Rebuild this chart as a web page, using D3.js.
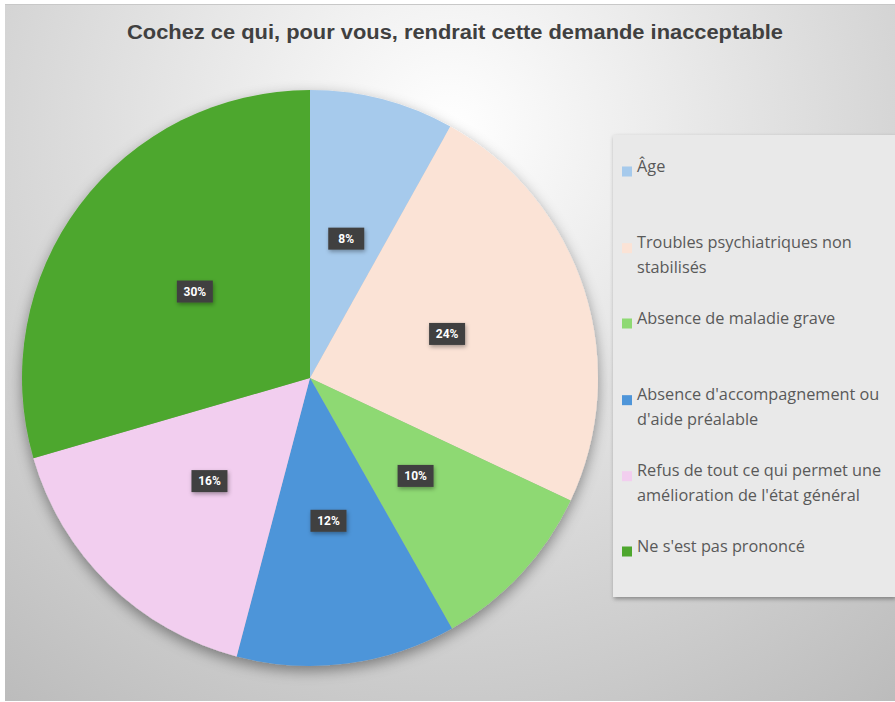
<!DOCTYPE html>
<html lang="fr">
<head>
<meta charset="UTF-8">
<title>Cochez ce qui, pour vous, rendrait cette demande inacceptable</title>
<style>
    body { margin: 0; background: #fff; }
    .legend-text { font-family: "Open Sans", "Noto Sans", sans-serif; font-size: 16.3px; fill: #595959; }
    .pct { font-family: Roboto, "Liberation Sans", sans-serif; font-size: 12px; font-weight: bold; fill: #fff; }
</style>
</head>
<body>
<svg id="chart" width="895" height="702"></svg>
<script src="https://d3js.org/d3.v7.min.js"></script>
<script>
    // slice values (in %)
    const categories = [
        "Âge",
        "Troubles psychiatriques non stabilisés",
        "Absence de maladie grave",
        "Absence d'accompagnement ou d'aide préalable",
        "Refus de tout ce qui permet une amélioration de l'état général",
        "Ne s'est pas prononcé"
    ];
    const values = [8.1, 23.9, 9.8, 12.3, 16.4, 29.5];
    const colors = ["#a6caec", "#fbe3d6", "#8ed973", "#4e95d9", "#f2ceef", "#4ea72e"];
    // legend lines, wrapped like the original
    const legendLines = [
        ["Âge"],
        ["Troubles psychiatriques non", "stabilisés"],
        ["Absence de maladie grave"],
        ["Absence d'accompagnement ou", "d'aide préalable"],
        ["Refus de tout ce qui permet une", "amélioration de l'état général"],
        ["Ne s'est pas prononcé"]
    ];
    const title = "Cochez ce qui, pour vous, rendrait cette demande inacceptable";

    const svg = d3.select("#chart");
    const defs = svg.append("defs");

    const bg = defs.append("radialGradient").attr("id", "bg")
        .attr("gradientUnits", "userSpaceOnUse")
        .attr("cx", 450).attr("cy", 130).attr("r", 720);
    bg.append("stop").attr("offset", "0%").attr("stop-color", "#ffffff");
    bg.append("stop").attr("offset", "100%").attr("stop-color", "#bcbcbc");

    const shadow = defs.append("filter").attr("id", "shadow")
        .attr("x", "-20%").attr("y", "-20%").attr("width", "140%").attr("height", "140%");
    shadow.append("feDropShadow").attr("dx", 0).attr("dy", 5)
        .attr("stdDeviation", 7).attr("flood-color", "#000").attr("flood-opacity", 0.4);

    const small = defs.append("filter").attr("id", "small")
        .attr("x", "-30%").attr("y", "-30%").attr("width", "160%").attr("height", "160%");
    small.append("feDropShadow").attr("dx", 1).attr("dy", 2)
        .attr("stdDeviation", 2).attr("flood-color", "#000").attr("flood-opacity", 0.35);

    // chart area
    svg.append("rect").attr("x", 5).attr("y", 4).attr("width", 890).attr("height", 697)
        .attr("fill", "url(#bg)");
    svg.append("line").attr("x1", 5).attr("x2", 895).attr("y1", 4.5).attr("y2", 4.5)
        .attr("stroke", "#c8c8c8");

    svg.append("text")
        .attr("x", 455).attr("y", 39)
        .attr("text-anchor", "middle")
        .attr("textLength", 656).attr("lengthAdjust", "spacingAndGlyphs")
        .style("font-family", "'Liberation Sans Narrow', 'Liberation Sans', sans-serif")
        .style("font-size", "20px").style("font-weight", "bold").style("fill", "#404040")
        .text(title);

    // pie
    const cx = 310, cy = 378, R = 288;
    const pie = d3.pie().sort(null).value(d => d);
    const arcs = pie(values);
    const arc = d3.arc().innerRadius(0).outerRadius(R);
    const labelArc = d3.arc().innerRadius(R * 0.5).outerRadius(R * 0.5);

    const g = svg.append("g").attr("transform", `translate(${cx},${cy})`);
    g.append("g").attr("filter", "url(#shadow)")
        .selectAll("path").data(arcs).join("path")
        .attr("d", arc)
        .attr("fill", (d, i) => colors[i]);

    const lab = g.selectAll("g.lab").data(arcs).join("g")
        .attr("class", "lab")
        .attr("transform", d => `translate(${labelArc.centroid(d)})`);
    lab.append("rect")
        .attr("x", -18).attr("y", -11).attr("width", 36).attr("height", 22)
        .attr("fill", "#404040").attr("filter", "url(#small)");
    lab.append("text").attr("class", "pct")
        .attr("text-anchor", "middle").attr("dy", "0.35em")
        .text(d => Math.round(d.data) + "%");

    // legend
    const legendX = 613, legendY = 135;
    svg.append("rect")
        .attr("x", legendX).attr("y", legendY).attr("width", 282).attr("height", 462)
        .attr("fill", "#e9e9e9").attr("filter", "url(#small)");

    const itemY = d3.scalePoint().domain(d3.range(categories.length))
        .range([172, 552]);
    const item = svg.selectAll("g.item").data(categories).join("g")
        .attr("class", "item")
        .attr("transform", (d, i) => `translate(${legendX}, ${itemY(i) + (legendLines[i].length > 1 ? 76 / 6 : 0)})`);
    item.append("rect")
        .attr("x", 9).attr("y", (d, i) => legendLines[i].length > 1 ? -17.5 : -5.5)
        .attr("width", 10).attr("height", 10)
        .attr("fill", (d, i) => colors[i]);
    item.append("text").attr("class", "legend-text")
        .attr("x", 24)
        .attr("y", (d, i) => legendLines[i].length > 1 ? -12.5 : -0.5)
        .attr("dy", "0.35em")
        .selectAll("tspan").data((d, i) => legendLines[i]).join("tspan")
        .attr("x", 24)
        .attr("dy", (d, j) => j === 0 ? 0 : 24.5)
        .text(d => d);
</script>
</body>
</html>
